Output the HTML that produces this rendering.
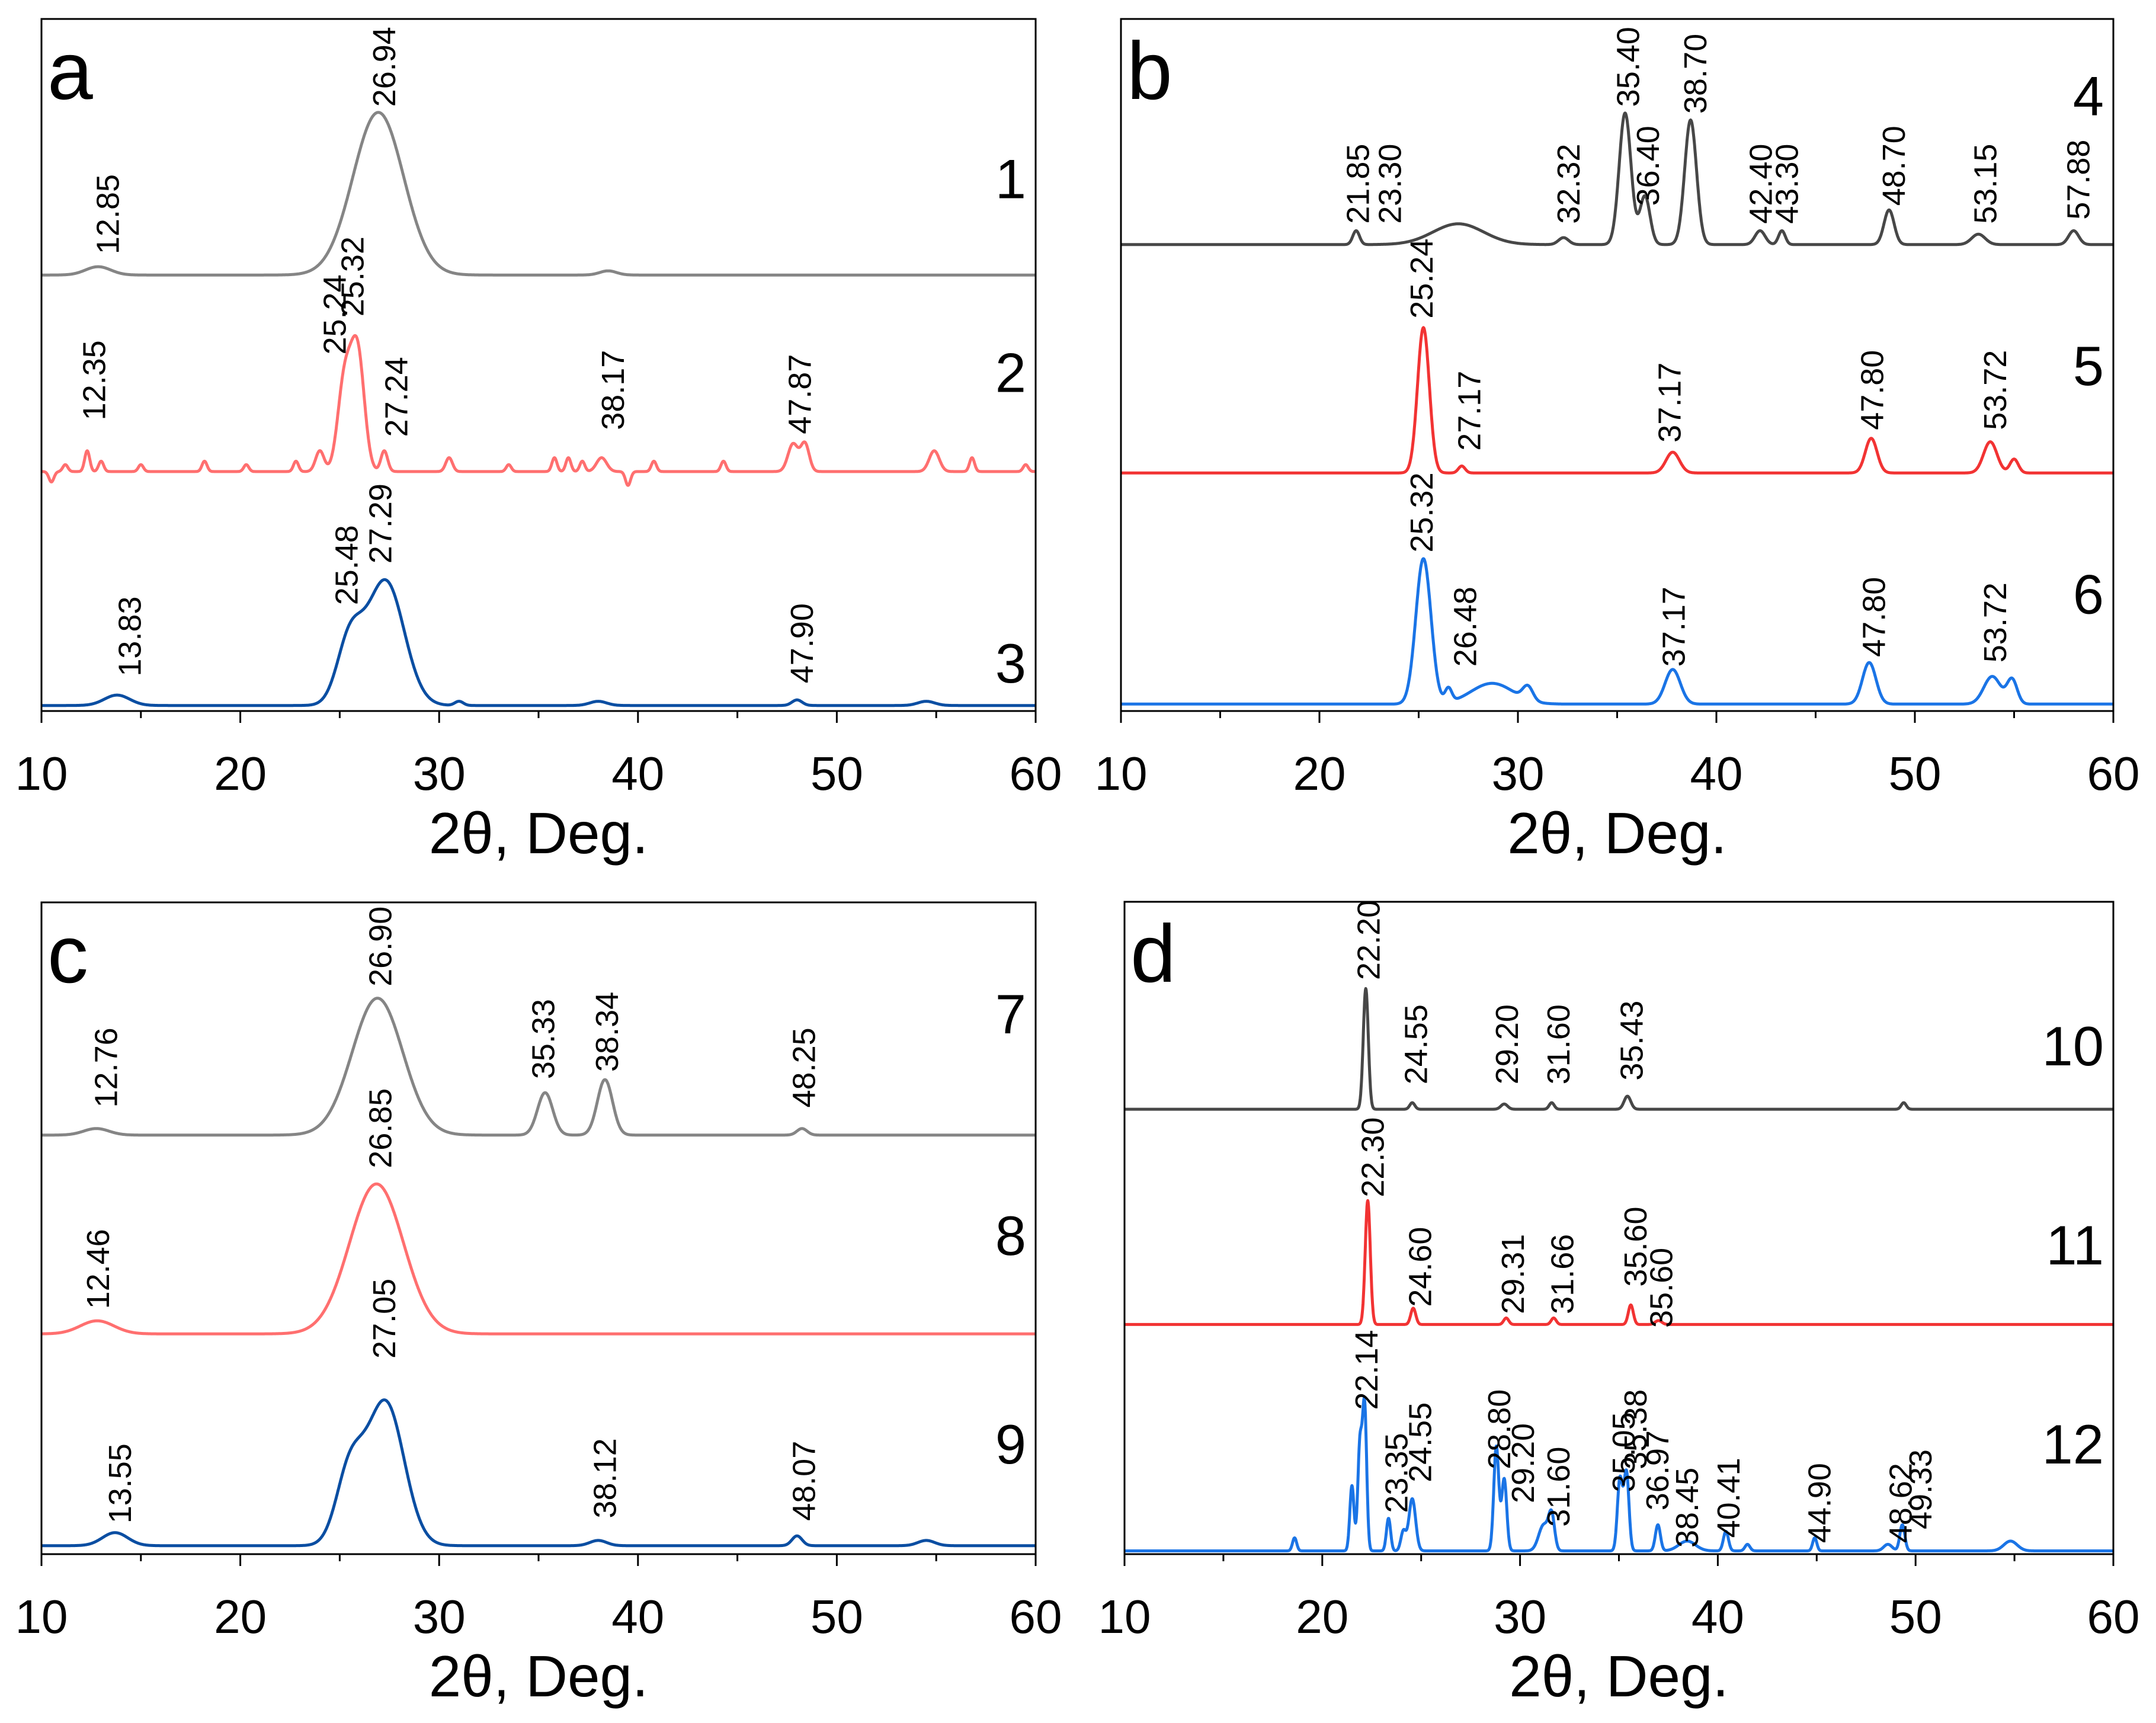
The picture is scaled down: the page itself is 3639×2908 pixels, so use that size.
<!DOCTYPE html>
<html><head><meta charset="utf-8"><style>
html,body{margin:0;padding:0;background:#fff;}
svg{display:block;font-family:"Liberation Sans",sans-serif;}
</style></head><body>
<svg id="fig" width="3639" height="2908" viewBox="0 0 3639 2908" xmlns="http://www.w3.org/2000/svg"></svg>
<script>
// ---- data: x range, peaks [position, height, FWHM], baselines, labels ----
const xTicks = [10,20,30,40,50,60];
const xMinorTicks = [15,25,35,45,55];
const panelIds = ['a','b','c','d'];
// curve baselines (y value, 0..100 per panel)
const baseA = [63, 34.6, 0.8];
const baseB = [67.4, 34.4, 1];
const baseC = [64.3, 33.8, 1.3];
const baseD = [68.2, 35.2, 0.5];
// peaks per curve
const peaks1 = [[26.94,23.5,3.0],[12.85,1.2,1.5],[38.5,0.6,1]];
const peaks2 = [[10.5,-1.5,0.3],[11.2,1,0.3],[12.3,3,0.3],[13.0,1.5,0.3],[15,1,0.3],[18.2,1.5,0.3],[20.3,1,0.3],[22.8,1.5,0.3],[24.0,3,0.5],[25.24,13,0.8],[25.9,17,0.8],[27.24,3,0.4],[30.5,2,0.4],[33.5,1,0.3],[35.8,2,0.3],[36.5,2,0.3],[37.2,1.5,0.3],[38.17,2,0.6],[39.5,-2,0.3],[40.8,1.5,0.3],[44.3,1.5,0.3],[47.8,4,0.6],[48.4,4,0.5],[54.9,3,0.6],[56.8,2,0.3],[59.5,1,0.3]];
const peaks3 = [[13.8,1.5,1.5],[25.5,9,1.5],[27.3,18,2.2],[31,0.6,0.5],[38,0.6,1],[48,0.8,0.6],[54.5,0.6,1]];
const peaks4 = [[21.85,2,0.4],[27,3,3],[32.3,1,0.6],[35.4,19,0.7],[36.4,7,0.6],[38.7,18,0.7],[42.2,2,0.6],[43.3,2,0.4],[48.7,5,0.6],[53.2,1.5,0.8],[58.0,2,0.6]];
const peaks5 = [[25.24,21,0.7],[27.17,1,0.4],[37.8,3,0.8],[47.8,5,0.7],[53.8,4.5,0.8],[55.0,2,0.5]];
const peaks6 = [[25.24,21,0.9],[26.5,2,0.4],[28.7,3,2.5],[30.5,2,0.6],[37.8,5,0.9],[47.7,6,0.8],[53.9,4,1.0],[54.9,3.5,0.6]];
const peaks7 = [[12.76,1,1.5],[26.9,21,3],[35.33,6.5,0.9],[38.34,8.5,0.9],[48.25,1,0.6]];
const peaks8 = [[12.8,2,2],[26.85,23,3.2]];
const peaks9 = [[13.7,2,1.5],[25.5,11,1.6],[27.3,22,2.2],[38,0.8,1],[48,1.5,0.6],[54.5,0.8,1]];
const peaks10 = [[22.2,18.5,0.3],[24.55,1,0.3],[29.2,0.8,0.4],[31.6,1,0.3],[35.43,2,0.4],[49.4,1,0.3]];
const peaks11 = [[22.3,19,0.3],[24.6,2.5,0.3],[29.3,1,0.3],[31.7,1,0.3],[35.6,3,0.3],[37,0.6,0.4]];
const peaks12 = [[18.6,2,0.25],[21.5,10,0.25],[21.9,16,0.25],[22.14,22,0.25],[23.35,5,0.25],[24.1,3,0.3],[24.55,8,0.4],[28.8,16,0.3],[29.2,11,0.3],[31.2,4,0.6],[31.6,5,0.35],[35.05,11,0.3],[35.38,12,0.3],[36.97,4,0.3],[38.45,1.5,1],[40.41,3,0.3],[41.5,1,0.3],[44.9,2,0.25],[48.6,1,0.5],[49.33,4,0.3],[54.8,1.5,0.8]];
// peak labels [text, x position (deg), y value of text start]
const labelsA = [["12.85",13.3,66],["26.94",27.2,87.3],["25.24",24.7,51.5],["25.32",25.6,57],["12.35",12.6,42],["27.24",27.8,39.6],["38.17",38.7,40.6],["47.87",48.1,40],["13.83",14.4,5],["25.48",25.3,15.3],["27.29",27.0,21.3],["47.90",48.2,4]];
const labelsB = [["21.85",21.9,70.4],["23.30",23.5,70.4],["32.32",32.5,70.4],["35.40",35.5,87.3],["36.40",36.5,73],["38.70",38.9,86.3],["42.40",42.2,70.4],["43.30",43.5,70.4],["48.70",48.9,73],["53.15",53.5,70.4],["57.88",58.2,71],["25.24",25.1,56.7],["27.17",27.5,37.6],["37.17",37.6,38.8],["47.80",47.8,40.6],["53.72",54,40.6],["25.32",25.1,22.9],["26.48",27.3,6.4],["37.17",37.8,6.4],["47.80",47.9,7.8],["53.72",54,7]];
const labelsC = [["12.76",13.2,68.5],["26.90",27.0,87.1],["35.33",35.2,72.9],["38.34",38.4,74],["48.25",48.3,68.5],["26.85",27.0,59.2],["12.46",12.8,37.6],["27.05",27.2,30],["13.55",13.9,4.7],["38.12",38.3,5.5],["48.07",48.3,5.1]];
const labelsD = [["22.20",22.3,88],["24.55",24.7,72],["29.20",29.3,72],["31.60",31.9,72],["35.43",35.6,72.6],["22.30",22.5,54.7],["24.60",24.9,37.9],["29.31",29.6,36.8],["31.66",32.1,36.8],["35.60",35.8,41],["35.60",37.1,34.7],["22.14",22.2,22.1],["23.35",23.7,6.3],["24.55",24.9,11],["28.80",28.9,13],["29.20",30.1,7.8],["31.60",31.9,4.2],["35.05",35.2,9.5],["35.38",35.8,13],["36.97",36.9,6.7],["38.45",38.4,1],["40.41",40.5,2.5],["44.90",45.1,1.7],["48.62",49.2,1.7],["49.33",50.2,3.8]];
// curve numbers [text, y value of center]
const numsA = [["1",77],["2",49],["3",7]];
const numsB = [["4",89],["5",50],["6",17]];
const numsC = [["7",83],["8",49],["9",17]];
const numsD = [["10",78],["11",47.5],["12",17]];

const NS='http://www.w3.org/2000/svg';
const svg=document.getElementById('fig');
function mk(tag,attrs,parent){const e=document.createElementNS(NS,tag);for(const k in attrs)e.setAttribute(k,attrs[k]);(parent||svg).appendChild(e);return e;}

const panels=[
 {id:'a',L:70,R:1748,T:32,B:1200,bases:baseA,peaks:[peaks1,peaks2,peaks3],colors:['#858585','#ff6f6f','#0b4ea2'],labels:labelsA,nums:numsA},
 {id:'b',L:1892,R:3567,T:32,B:1200,bases:baseB,peaks:[peaks4,peaks5,peaks6],colors:['#474747','#f23333','#1a74e6'],labels:labelsB,nums:numsB},
 {id:'c',L:70,R:1748,T:1523,B:2623,bases:baseC,peaks:[peaks7,peaks8,peaks9],colors:['#858585','#ff6f6f','#0b4ea2'],labels:labelsC,nums:numsC},
 {id:'d',L:1898,R:3567,T:1522,B:2623,bases:baseD,peaks:[peaks10,peaks11,peaks12],colors:['#474747','#f23333','#1a74e6'],labels:labelsD,nums:numsD}
];

panels.forEach(p=>{
 const g=mk('g',{});
 
 
 const xs=v=>p.L+(v-10)/50*(p.R-p.L);
 const ys=v=>p.B-v/100*(p.B-p.T);
 p.peaks.forEach((pk,i)=>{
  let d='';
  for(let x=10;x<=60.0001;x+=0.02){
   let y=p.bases[i];
   pk.forEach(q=>{const s=q[2]/2.3548;y+=q[1]*Math.exp(-((x-q[0])**2)/(2*s*s));});
   d+=(d?'L':'M')+xs(x).toFixed(1)+' '+ys(y).toFixed(1);
  }
  const path=mk('path',{d:d,fill:'none',stroke:p.colors[i],'stroke-width':5,'stroke-linejoin':'round'},g);
  
  
 });
 const fr=mk('rect',{x:p.L,y:p.T,width:p.R-p.L,height:p.B-p.T,fill:'none',stroke:'#000','stroke-width':3},g);
 
 
 xTicks.forEach(t=>{
  const l=mk('line',{x1:xs(t),x2:xs(t),y1:p.B,y2:p.B+20,stroke:'#000','stroke-width':3},g);
  
  
  const tx=mk('text',{x:xs(t),y:p.B+133,'font-size':80,'text-anchor':'middle'},g);
  tx.textContent=t;
  
  
 });
 xMinorTicks.forEach(t=>{
  const l=mk('line',{x1:xs(t),x2:xs(t),y1:p.B,y2:p.B+12,stroke:'#000','stroke-width':3},g);
  
  
 });
 const xl=mk('text',{x:(p.L+p.R)/2,y:p.B+240,'font-size':98,'text-anchor':'middle'},g);
 xl.textContent='2θ, Deg.';
 
 
 const pl=mk('text',{x:p.L+10,y:p.T+135,'font-size':138},g);
 pl.textContent=p.id;
 
 
 p.labels.forEach(lb=>{
  const x=xs(lb[1]),y=ys(lb[2]);
  const t=mk('text',{x:0,y:0,'font-size':54,transform:'translate('+(x+20)+','+y+') rotate(-90)'},g);
  t.textContent=lb[0];
  
  
 });
 p.nums.forEach(n=>{
  const t=mk('text',{x:p.R-16,y:ys(n[1])+34,'font-size':94,'text-anchor':'end'},g);
  t.textContent=n[0];
  
  
 });
});
</script>
</body></html>
